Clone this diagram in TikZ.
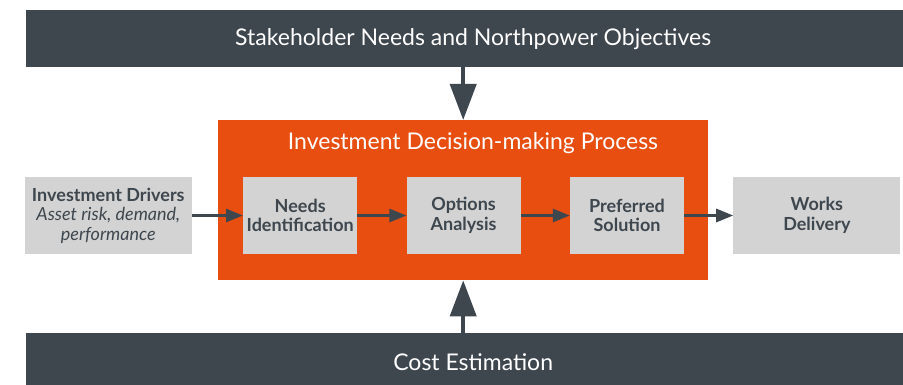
\documentclass[tikz,border=0pt]{standalone}
\usepackage{fontspec}
\setmainfont{Lato}
\usetikzlibrary{arrows.meta, positioning}
\definecolor{barcolor}{RGB}{62, 70, 78}
\definecolor{processcolor}{RGB}{232, 78, 16}
\definecolor{boxcolor}{RGB}{210, 211, 210}

\begin{document}
\begin{tikzpicture}[x=1pt, y=1pt, node distance=49pt,
  bar/.style={fill=barcolor, text=white, font=\fontsize{23}{27}\selectfont, minimum width=894pt, inner sep=0pt, anchor=north west},
  stepbox/.style={fill=boxcolor, text=barcolor, font=\bfseries\fontsize{18}{19.5}\selectfont, align=center, minimum width=114pt, minimum height=76pt, inner sep=0pt},
  sidebox/.style={stepbox, minimum width=167pt},
  flow/.style={-{Triangle[length=17pt, width=13pt]}, line width=3pt, draw=barcolor},
  feed/.style={-{Triangle[length=36pt, width=26pt]}, line width=4pt, draw=barcolor}]
\useasboundingbox (0,0) rectangle (903,-385);

% outer bars
\node[bar, minimum height=57pt] (objectives) at (26,-10) {Stakeholder Needs and Northpower Objectives};
\node[bar, minimum height=58pt] (cost) at (26,-333) {Cost Estimation};

% process frame
\node[fill=processcolor, minimum width=490pt, minimum height=160pt, inner sep=0pt, anchor=north west] (process) at (218,-120) {};
\node[text=white, font=\fontsize{23}{27}\selectfont] (title) at (473,-143) {Investment Decision-making Process};

% steps
\node[stepbox, anchor=west] (ident) at (243,-215.5) {Needs\\Identification};
\node[stepbox, right=of ident] (options) {Options\\Analysis};
\node[stepbox, right=of options] (solution) {Preferred\\Solution};
\node[sidebox, right=of solution] (delivery) {Works\\Delivery};
\node[sidebox, left=51pt of ident] (drivers) {Investment Drivers\\{\mdseries\itshape Asset risk, demand,}\\{\mdseries\itshape performance}};

\draw[flow] (drivers) -- (ident);
\draw[flow] (ident) -- (options);
\draw[flow] (options) -- (solution);
\draw[flow] (solution) -- (delivery);

\draw[feed] (objectives.south -| process.north) -- (process.north);
\draw[feed] (cost.north -| process.south) -- (process.south);
\end{tikzpicture}
\end{document}
